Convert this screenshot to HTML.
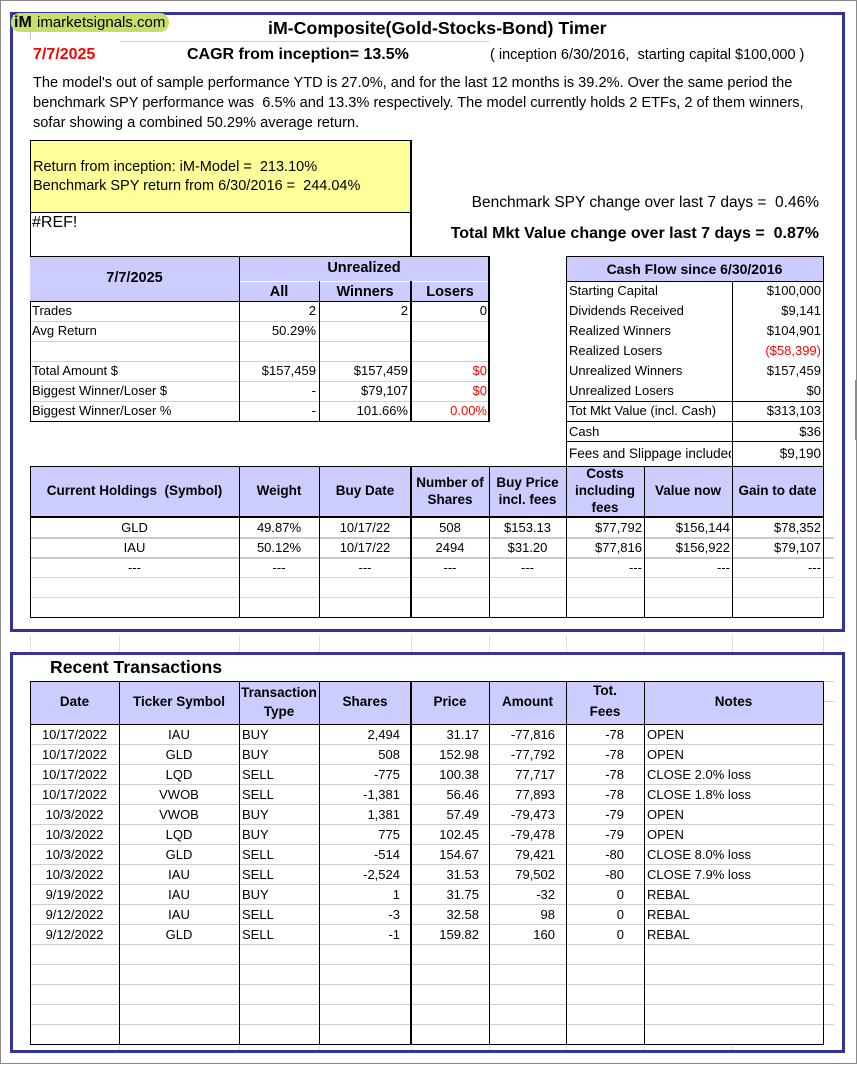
<!DOCTYPE html>
<html><head><meta charset="utf-8">
<style>
*{box-sizing:border-box}
body{margin:0;width:857px;height:1066px;position:relative;background:#fff;font-family:"Liberation Sans",Arial,sans-serif;color:#000;overflow:hidden}
.a{position:absolute;white-space:nowrap}
.l{position:absolute;background:#000}
.g{position:absolute;background:#cfcfcf}
.gl{position:absolute;background:#e0e0e0}
.bg{position:absolute;background:#ccccff}
.r{position:absolute;left:0;width:857px;height:20px;font-size:13px;line-height:21px}
.r span{position:absolute;top:0;white-space:nowrap;overflow:hidden}
.hd{position:absolute;font-weight:bold;font-size:13.5px;text-align:center;white-space:nowrap}
.t1{left:30px;width:89px;text-align:center}
.t2{left:119px;width:120px;text-align:center}
.t3{left:242px;width:76px;text-align:left}
.t4{left:319px;width:81px;text-align:right}
.t5{left:411px;width:68px;text-align:right}
.t6{left:489px;width:66px;text-align:right}
.t7{left:566px;width:58px;text-align:right}
.t8{left:647px;width:175px;text-align:left}
.h1{left:30px;width:209px;text-align:center}
.h2{left:239px;width:80px;text-align:center}
.h3{left:319px;width:92px;text-align:center}
.h4{left:411px;width:78px;text-align:center}
.h5{left:489px;width:77px;text-align:center}
.h6{left:566px;width:76px;text-align:right}
.h7{left:644px;width:86px;text-align:right}
.h8{left:732px;width:89px;text-align:right}
.u1{left:32px;width:205px;text-align:left}
.u2{left:239px;width:77px;text-align:right}
.u3{left:319px;width:89px;text-align:right}
.u4{left:411px;width:76px;text-align:right}
.k1{left:569px;width:162px;text-align:left}
.k2{left:732px;width:89px;text-align:right}
.red{color:#ff0000}
</style></head><body>

<!-- outer gray frame -->
<div class="a" style="left:0;top:0;width:857px;height:1064px;border:1px solid #8a8a8a"></div>
<div class="a" style="left:855px;top:380px;width:1px;height:60px;background:#d86a6a"></div>

<!-- blue boxes -->
<div class="a" style="left:10px;top:12px;width:835px;height:620px;border:3px solid #333399"></div>
<div class="a" style="left:10px;top:652px;width:835px;height:401px;border:3px solid #333399"></div>

<!-- gridlines between boxes -->
<div class="gl" style="left:30px;top:635px;width:1px;height:17px"></div>
<div class="gl" style="left:119px;top:635px;width:1px;height:17px"></div>
<div class="gl" style="left:239px;top:635px;width:1px;height:17px"></div>
<div class="gl" style="left:319px;top:635px;width:1px;height:17px"></div>
<div class="gl" style="left:411px;top:635px;width:1px;height:17px"></div>
<div class="gl" style="left:489px;top:635px;width:1px;height:17px"></div>
<div class="gl" style="left:566px;top:635px;width:1px;height:17px"></div>
<div class="gl" style="left:644px;top:635px;width:1px;height:17px"></div>
<div class="gl" style="left:732px;top:635px;width:1px;height:17px"></div>
<div class="gl" style="left:823px;top:635px;width:1px;height:17px"></div>

<!-- logo -->
<div class="a" style="left:11px;top:13px;width:158px;height:19px;border-radius:9px;background:#c6df6a"></div>
<div class="a" style="left:14px;top:13px;font-size:16px;font-weight:bold;line-height:19px">iM</div>
<div class="a" style="left:37px;top:13px;font-size:15px;line-height:19px">imarketsignals.com</div>
<div class="gl" style="left:30px;top:32px;width:1px;height:8px;background:#c8c8c8"></div>
<div class="gl" style="left:120px;top:41px;width:369px;height:1px;background:#d0d0d0"></div>

<!-- title -->
<div class="a" style="left:268px;top:18px;font-size:17.8px;font-weight:bold;line-height:20px">iM-Composite(Gold-Stocks-Bond) Timer</div>
<div class="a red" style="left:33px;top:45px;font-size:16px;font-weight:bold;line-height:20px">7/7/2025</div>
<div class="a" style="left:187px;top:45px;font-size:16px;font-weight:bold;line-height:20px">CAGR from inception= 13.5%</div>
<div class="a" style="left:490px;top:45px;font-size:14.5px;line-height:20px">( inception 6/30/2016,&nbsp; starting capital $100,000 )</div>

<div class="a" style="left:33px;top:73px;font-size:14.6px;line-height:20px;white-space:normal;width:805px">The model's out of sample performance YTD is 27.0%, and for the last 12 months is 39.2%. Over the same period the<br>benchmark SPY performance was&nbsp; 6.5% and 13.3% respectively. The model currently holds 2 ETFs, 2 of them winners,<br>sofar showing a combined 50.29% average return.</div>

<!-- yellow box -->
<div class="a" style="left:30px;top:140px;width:381px;height:72px;background:#ffff99"></div>
<div class="l" style="left:30px;top:140px;width:381px;height:1px"></div>
<div class="l" style="left:30px;top:212px;width:381px;height:1px"></div>
<div class="l" style="left:30px;top:140px;width:1px;height:282px"></div>
<div class="l" style="left:410px;top:140px;width:2px;height:116px"></div>
<div class="a" style="left:33px;top:158px;font-size:14.5px;line-height:19px">Return from inception: iM-Model =&nbsp; 213.10%<br>Benchmark SPY return from 6/30/2016 =&nbsp; 244.04%</div>
<div class="a" style="left:32px;top:213px;font-size:16px;line-height:20px">#REF!</div>

<div class="a" style="left:400px;top:193px;width:419px;text-align:right;font-size:15.5px;line-height:20px">Benchmark SPY change over last 7 days =&nbsp; 0.46%</div>
<div class="a" style="left:400px;top:224px;width:419px;text-align:right;font-size:16px;font-weight:bold;line-height:20px">Total Mkt Value change over last 7 days =&nbsp; 0.87%</div>

<!-- Unrealized table -->
<div class="bg" style="left:30px;top:256px;width:459px;height:45px"></div>
<div class="a" style="left:239px;top:281px;width:250px;height:1px;background:#fff"></div>
<div class="l" style="left:30px;top:256px;width:460px;height:1px"></div>
<div class="l" style="left:30px;top:301px;width:460px;height:1px"></div>
<div class="g" style="left:31px;top:321px;width:458px;height:1px"></div>
<div class="g" style="left:31px;top:341px;width:458px;height:1px"></div>
<div class="g" style="left:31px;top:361px;width:458px;height:1px"></div>
<div class="g" style="left:31px;top:381px;width:458px;height:1px"></div>
<div class="g" style="left:31px;top:401px;width:458px;height:1px"></div>
<div class="l" style="left:30px;top:421px;width:460px;height:1px"></div>
<div class="l" style="left:239px;top:256px;width:1px;height:166px"></div>
<div class="l" style="left:319px;top:281px;width:1px;height:141px"></div>
<div class="l" style="left:410px;top:281px;width:2px;height:141px"></div>
<div class="l" style="left:488px;top:256px;width:2px;height:166px"></div>
<div class="hd" style="left:30px;top:268px;width:209px;font-size:14.5px;line-height:20px">7/7/2025</div>
<div class="hd" style="left:239px;top:258px;width:250px;font-size:14.5px;line-height:20px">Unrealized</div>
<div class="hd" style="left:239px;top:282px;width:80px;font-size:14.5px;line-height:20px">All</div>
<div class="hd" style="left:319px;top:282px;width:92px;font-size:14.5px;line-height:20px">Winners</div>
<div class="hd" style="left:411px;top:282px;width:78px;font-size:14.5px;line-height:20px">Losers</div>

<div class="r" style="top:300px"><span class="u1">Trades</span><span class="u2">2</span><span class="u3">2</span><span class="u4">0</span></div>
<div class="r" style="top:320px"><span class="u1">Avg Return</span><span class="u2">50.29%</span></div>
<div class="r" style="top:360px"><span class="u1">Total Amount $</span><span class="u2">$157,459</span><span class="u3">$157,459</span><span class="u4 red">$0</span></div>
<div class="r" style="top:380px"><span class="u1">Biggest Winner/Loser $</span><span class="u2">-</span><span class="u3">$79,107</span><span class="u4 red">$0</span></div>
<div class="r" style="top:400px"><span class="u1">Biggest Winner/Loser %</span><span class="u2">-</span><span class="u3">101.66%</span><span class="u4 red">0.00%</span></div>

<!-- Cash flow table -->
<div class="bg" style="left:566px;top:256px;width:257px;height:25px"></div>
<div class="l" style="left:566px;top:256px;width:258px;height:1px"></div>
<div class="l" style="left:566px;top:281px;width:258px;height:1px"></div>
<div class="l" style="left:566px;top:401px;width:258px;height:1px"></div>
<div class="l" style="left:566px;top:421px;width:258px;height:1px"></div>
<div class="l" style="left:566px;top:441px;width:258px;height:1px"></div>
<div class="l" style="left:566px;top:256px;width:1px;height:210px"></div>
<div class="l" style="left:823px;top:256px;width:1px;height:210px"></div>
<div class="l" style="left:732px;top:281px;width:1px;height:185px"></div>
<div class="hd" style="left:566px;top:258px;width:257px;font-size:14px;line-height:22px">Cash Flow since 6/30/2016</div>
<div class="r" style="top:280px"><span class="k1">Starting Capital</span><span class="k2">$100,000</span></div>
<div class="r" style="top:300px"><span class="k1">Dividends Received</span><span class="k2">$9,141</span></div>
<div class="r" style="top:320px"><span class="k1">Realized Winners</span><span class="k2">$104,901</span></div>
<div class="r" style="top:340px"><span class="k1">Realized Losers</span><span class="k2 red">($58,399)</span></div>
<div class="r" style="top:360px"><span class="k1">Unrealized Winners</span><span class="k2">$157,459</span></div>
<div class="r" style="top:380px"><span class="k1">Unrealized Losers</span><span class="k2">$0</span></div>
<div class="r" style="top:400px"><span class="k1">Tot Mkt Value (incl. Cash)</span><span class="k2">$313,103</span></div>
<div class="r" style="top:421px"><span class="k1">Cash</span><span class="k2">$36</span></div>
<div class="r" style="top:443px;font-size:13.5px"><span class="k1">Fees and Slippage included</span><span class="k2">$9,190</span></div>

<!-- Holdings table -->
<div class="bg" style="left:30px;top:466px;width:793px;height:50px"></div>
<div class="l" style="left:30px;top:466px;width:794px;height:1px"></div>
<div class="l" style="left:30px;top:516px;width:794px;height:2px"></div>
<div class="g" style="left:31px;top:537px;width:803px;height:2px;background:#cacaca"></div>
<div class="g" style="left:31px;top:557px;width:803px;height:2px;background:#cacaca"></div>
<div class="g" style="left:31px;top:577px;width:803px;height:1px;background:#d8d8d8"></div>
<div class="g" style="left:31px;top:597px;width:803px;height:1px;background:#d8d8d8"></div>
<div class="l" style="left:30px;top:617px;width:794px;height:1px"></div>
<div class="l" style="left:30px;top:466px;width:1px;height:152px"></div>
<div class="l" style="left:239px;top:466px;width:1px;height:152px"></div>
<div class="l" style="left:319px;top:466px;width:1px;height:152px"></div>
<div class="l" style="left:410px;top:466px;width:2px;height:152px"></div>
<div class="l" style="left:489px;top:466px;width:1px;height:152px"></div>
<div class="l" style="left:566px;top:466px;width:1px;height:152px"></div>
<div class="l" style="left:644px;top:466px;width:1px;height:152px"></div>
<div class="l" style="left:732px;top:466px;width:1px;height:152px"></div>
<div class="l" style="left:823px;top:466px;width:1px;height:152px"></div>
<div class="hd" style="left:30px;top:481px;width:209px;line-height:20px">Current Holdings&nbsp; (Symbol)</div>
<div class="hd" style="left:239px;top:481px;width:80px;line-height:20px">Weight</div>
<div class="hd" style="left:319px;top:481px;width:92px;line-height:20px">Buy Date</div>
<div class="hd" style="left:411px;top:474px;width:78px;line-height:17px">Number of<br>Shares</div>
<div class="hd" style="left:489px;top:474px;width:77px;line-height:17px">Buy Price<br>incl. fees</div>
<div class="hd" style="left:566px;top:465px;width:78px;line-height:17px">Costs<br>including<br>fees</div>
<div class="hd" style="left:644px;top:481px;width:88px;line-height:20px">Value now</div>
<div class="hd" style="left:732px;top:481px;width:91px;line-height:20px">Gain to date</div>

<div class="r" style="top:517px"><span class="h1">GLD</span><span class="h2">49.87%</span><span class="h3">10/17/22</span><span class="h4">508</span><span class="h5">$153.13</span><span class="h6">$77,792</span><span class="h7">$156,144</span><span class="h8">$78,352</span></div>
<div class="r" style="top:537px"><span class="h1">IAU</span><span class="h2">50.12%</span><span class="h3">10/17/22</span><span class="h4">2494</span><span class="h5">$31.20</span><span class="h6">$77,816</span><span class="h7">$156,922</span><span class="h8">$79,107</span></div>
<div class="r" style="top:557px"><span class="h1">---</span><span class="h2">---</span><span class="h3">---</span><span class="h4">---</span><span class="h5">---</span><span class="h6">---</span><span class="h7">---</span><span class="h8">---</span></div>

<!-- Recent transactions -->
<div class="a" style="left:50px;top:657px;font-size:17.6px;font-weight:bold;line-height:20px">Recent Transactions</div>
<div class="bg" style="left:30px;top:681px;width:793px;height:43px"></div>
<div class="g" style="left:824px;top:681px;width:10px;height:1px"></div>
<div class="g" style="left:824px;top:701px;width:10px;height:1px"></div>
<div class="l" style="left:30px;top:681px;width:794px;height:1px"></div>
<div class="l" style="left:30px;top:724px;width:794px;height:1px"></div>
<div class="g" style="left:31px;top:744px;width:803px;height:1px"></div>
<div class="g" style="left:31px;top:764px;width:803px;height:1px"></div>
<div class="g" style="left:31px;top:784px;width:803px;height:1px"></div>
<div class="g" style="left:31px;top:804px;width:803px;height:1px"></div>
<div class="g" style="left:31px;top:824px;width:803px;height:1px"></div>
<div class="g" style="left:31px;top:844px;width:803px;height:1px"></div>
<div class="g" style="left:31px;top:864px;width:803px;height:1px"></div>
<div class="g" style="left:31px;top:884px;width:803px;height:1px"></div>
<div class="g" style="left:31px;top:904px;width:803px;height:1px"></div>
<div class="g" style="left:31px;top:924px;width:803px;height:1px"></div>
<div class="g" style="left:31px;top:944px;width:803px;height:1px"></div>
<div class="g" style="left:31px;top:964px;width:803px;height:1px"></div>
<div class="g" style="left:31px;top:984px;width:803px;height:1px"></div>
<div class="g" style="left:31px;top:1004px;width:803px;height:1px"></div>
<div class="g" style="left:31px;top:1024px;width:803px;height:1px"></div>
<div class="l" style="left:30px;top:1044px;width:794px;height:1px"></div>
<div class="gl" style="left:119px;top:1045px;width:1px;height:5px"></div>
<div class="gl" style="left:239px;top:1045px;width:1px;height:5px"></div>
<div class="gl" style="left:319px;top:1045px;width:1px;height:5px"></div>
<div class="gl" style="left:411px;top:1045px;width:1px;height:5px"></div>
<div class="gl" style="left:489px;top:1045px;width:1px;height:5px"></div>
<div class="gl" style="left:566px;top:1045px;width:1px;height:5px"></div>
<div class="gl" style="left:644px;top:1045px;width:1px;height:5px"></div>
<div class="gl" style="left:732px;top:1045px;width:1px;height:5px"></div>
<div class="l" style="left:30px;top:681px;width:1px;height:364px"></div>
<div class="l" style="left:119px;top:681px;width:1px;height:364px"></div>
<div class="l" style="left:239px;top:681px;width:1px;height:364px"></div>
<div class="l" style="left:319px;top:681px;width:1px;height:364px"></div>
<div class="l" style="left:410px;top:681px;width:2px;height:364px"></div>
<div class="l" style="left:489px;top:681px;width:1px;height:364px"></div>
<div class="l" style="left:566px;top:681px;width:1px;height:364px"></div>
<div class="l" style="left:644px;top:681px;width:1px;height:364px"></div>
<div class="l" style="left:823px;top:681px;width:1px;height:364px"></div>
<div class="hd" style="left:30px;top:692px;width:89px;line-height:20px">Date</div>
<div class="hd" style="left:119px;top:692px;width:120px;line-height:20px">Ticker Symbol</div>
<div class="hd" style="left:239px;top:683px;width:80px;line-height:19px">Transaction<br>Type</div>
<div class="hd" style="left:319px;top:692px;width:92px;line-height:20px">Shares</div>
<div class="hd" style="left:411px;top:692px;width:78px;line-height:20px">Price</div>
<div class="hd" style="left:489px;top:692px;width:77px;line-height:20px">Amount</div>
<div class="hd" style="left:566px;top:680px;width:78px;line-height:21px">Tot.<br>Fees</div>
<div class="hd" style="left:644px;top:692px;width:179px;line-height:20px">Notes</div>

<div class="r" style="top:724px"><span class="t1">10/17/2022</span><span class="t2">IAU</span><span class="t3">BUY</span><span class="t4">2,494</span><span class="t5">31.17</span><span class="t6">-77,816</span><span class="t7">-78</span><span class="t8">OPEN</span></div>
<div class="r" style="top:744px"><span class="t1">10/17/2022</span><span class="t2">GLD</span><span class="t3">BUY</span><span class="t4">508</span><span class="t5">152.98</span><span class="t6">-77,792</span><span class="t7">-78</span><span class="t8">OPEN</span></div>
<div class="r" style="top:764px"><span class="t1">10/17/2022</span><span class="t2">LQD</span><span class="t3">SELL</span><span class="t4">-775</span><span class="t5">100.38</span><span class="t6">77,717</span><span class="t7">-78</span><span class="t8">CLOSE 2.0% loss</span></div>
<div class="r" style="top:784px"><span class="t1">10/17/2022</span><span class="t2">VWOB</span><span class="t3">SELL</span><span class="t4">-1,381</span><span class="t5">56.46</span><span class="t6">77,893</span><span class="t7">-78</span><span class="t8">CLOSE 1.8% loss</span></div>
<div class="r" style="top:804px"><span class="t1">10/3/2022</span><span class="t2">VWOB</span><span class="t3">BUY</span><span class="t4">1,381</span><span class="t5">57.49</span><span class="t6">-79,473</span><span class="t7">-79</span><span class="t8">OPEN</span></div>
<div class="r" style="top:824px"><span class="t1">10/3/2022</span><span class="t2">LQD</span><span class="t3">BUY</span><span class="t4">775</span><span class="t5">102.45</span><span class="t6">-79,478</span><span class="t7">-79</span><span class="t8">OPEN</span></div>
<div class="r" style="top:844px"><span class="t1">10/3/2022</span><span class="t2">GLD</span><span class="t3">SELL</span><span class="t4">-514</span><span class="t5">154.67</span><span class="t6">79,421</span><span class="t7">-80</span><span class="t8">CLOSE 8.0% loss</span></div>
<div class="r" style="top:864px"><span class="t1">10/3/2022</span><span class="t2">IAU</span><span class="t3">SELL</span><span class="t4">-2,524</span><span class="t5">31.53</span><span class="t6">79,502</span><span class="t7">-80</span><span class="t8">CLOSE 7.9% loss</span></div>
<div class="r" style="top:884px"><span class="t1">9/19/2022</span><span class="t2">IAU</span><span class="t3">BUY</span><span class="t4">1</span><span class="t5">31.75</span><span class="t6">-32</span><span class="t7">0</span><span class="t8">REBAL</span></div>
<div class="r" style="top:904px"><span class="t1">9/12/2022</span><span class="t2">IAU</span><span class="t3">SELL</span><span class="t4">-3</span><span class="t5">32.58</span><span class="t6">98</span><span class="t7">0</span><span class="t8">REBAL</span></div>
<div class="r" style="top:924px"><span class="t1">9/12/2022</span><span class="t2">GLD</span><span class="t3">SELL</span><span class="t4">-1</span><span class="t5">159.82</span><span class="t6">160</span><span class="t7">0</span><span class="t8">REBAL</span></div>

</body></html>
